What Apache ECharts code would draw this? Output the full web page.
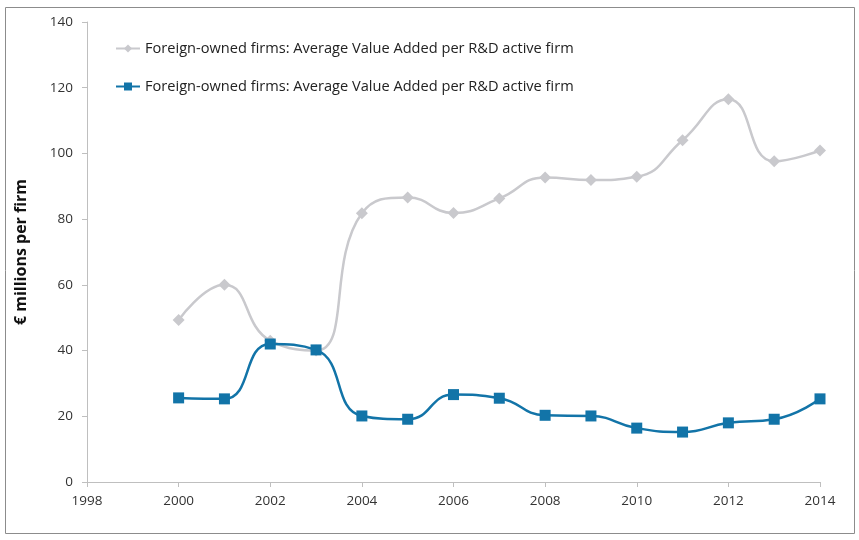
<!DOCTYPE html>
<html>
<head>
<meta charset="utf-8">
<script src="https://cdn.jsdelivr.net/npm/echarts@6/dist/echarts.min.js"></script>
<style>
  html, body { margin: 0; padding: 0; background: #fff; }
  #chart { width: 859px; height: 540px; }
</style>
</head>
<body>
<div id="chart"></div>
<script>
// data
const years = [2000, 2001, 2002, 2003, 2004, 2005, 2006, 2007, 2008, 2009, 2010, 2011, 2012, 2013, 2014]
const greyValues = [49.3, 60, 43, 40, 81.8, 86.6, 81.9, 86.3, 92.7, 91.9, 92.9, 104, 116.5, 97.6, 100.9]
const blueValues = [25.6, 25.3, 42, 40.2, 20.1, 19.1, 26.6, 25.5, 20.3, 20.1, 16.4, 15.2, 18, 19.1, 25.3]
const seriesNames = [
  'Foreign-owned firms: Average Value Added per R&D active firm',
  'Foreign-owned firms: Average Value Added per R&D active firm '
]
const yAxisTitle = '€ millions per firm'

const chart = echarts.init(document.getElementById('chart'))

const pairs = vals => years.map((y, i) => [y, vals[i]])

const option = {
  animation: false,
  textStyle: { fontFamily: 'Open Sans' },
  graphic: [
    { // frame round the chart
      type: 'rect',
      shape: { x: 5.5, y: 7.5, width: 849, height: 526 },
      style: { fill: null, stroke: '#8c8c8c', lineWidth: 1 },
      z: -1
    }
  ],
  grid: { left: 87, right: 39, top: 22, bottom: 58 },
  legend: {
    orient: 'vertical',
    left: 110,
    top: 36,
    itemGap: 23,
    itemWidth: 24,
    itemHeight: 10,
    textStyle: { fontSize: 14.6, color: '#222', fontFamily: 'Open Sans' },
    formatter: name => name.trim(),
    data: seriesNames
  },
  xAxis: {
    type: 'value',
    min: 1998,
    max: 2014,
    interval: 2,
    splitLine: { show: false },
    axisLine: { lineStyle: { color: '#bfbfbf' } },
    axisTick: { show: true, length: 5, lineStyle: { color: '#bfbfbf' } },
    axisLabel: { color: '#333', fontSize: 13.5, margin: 12, formatter: v => String(v) }
  },
  yAxis: {
    type: 'value',
    min: 0,
    max: 140,
    interval: 20,
    name: yAxisTitle,
    nameLocation: 'middle',
    nameGap: 58,
    nameTextStyle: { fontSize: 16, fontWeight: 'bold', color: '#111' },
    splitLine: { show: false },
    axisLine: { show: true, lineStyle: { color: '#bfbfbf' } },
    axisTick: { show: true, length: 5, lineStyle: { color: '#bfbfbf' } },
    axisLabel: { color: '#333', fontSize: 13.5, margin: 14 }
  },
  series: [
    {
      name: seriesNames[0],
      type: 'line',
      data: pairs(greyValues),
      smooth: 0.5,
      symbol: 'diamond',
      symbolSize: 12,
      lineStyle: { color: '#c9c9cd', width: 2.5 },
      itemStyle: { color: '#c9c9cd' }
    },
    {
      name: seriesNames[1],
      type: 'line',
      data: pairs(blueValues),
      smooth: 0.5,
      symbol: 'rect',
      symbolSize: 11,
      lineStyle: { color: '#1274a8', width: 2.5 },
      itemStyle: { color: '#1274a8' }
    }
  ]
}

chart.setOption(option)
window.addEventListener('resize', () => {
  chart.resize()
})
</script>
</body>
</html>
